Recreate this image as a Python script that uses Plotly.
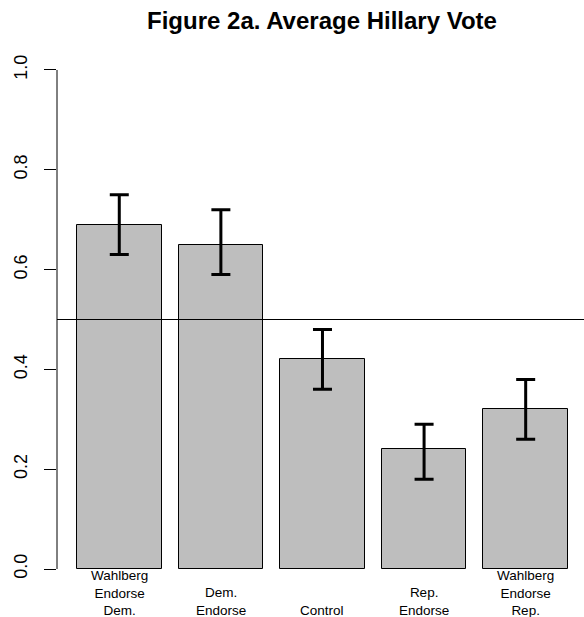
import plotly.graph_objects as go

categories = ["Wahlberg<br>Endorse<br>Dem.", "Dem.<br>Endorse", "Control", "Rep.<br>Endorse", "Wahlberg<br>Endorse<br>Rep."]
means = [0.69, 0.65, 0.42, 0.24, 0.32]
lower = [0.63, 0.59, 0.36, 0.18, 0.26]
upper = [0.75, 0.72, 0.48, 0.29, 0.38]
y_ticks = [0.0, 0.2, 0.4, 0.6, 0.8, 1.0]
y_ticklabels = ["0.0", "0.2", "0.4", "0.6", "0.8", "1.0"]

xs = list(range(len(categories)))
err_plus = [u - m for u, m in zip(upper, means)]
err_minus = [m - l for m, l in zip(means, lower)]

FONT = "Liberation Sans, Arial, Helvetica, sans-serif"

fig = go.Figure()
fig.add_trace(go.Bar(
    x=xs, y=means,
    marker=dict(color="#bebebe", line=dict(color="black", width=1)),
    error_y=dict(type="data", symmetric=False, array=err_plus, arrayminus=err_minus,
                 color="black", thickness=3, width=9.5),
    width=1 / 1.2,
    showlegend=False,
))

for x, lab in zip(xs, categories):
    fig.add_annotation(x=x, y=0, xref="x", yref="paper", text=lab, showarrow=False,
                       yanchor="bottom", yshift=-31, align="center",
                       font=dict(family=FONT, size=13.5, color="black"))

fig.add_shape(type="line", xref="paper", x0=0, x1=1, yref="y", y0=0.5, y1=0.5,
              line=dict(color="black", width=1))
fig.add_shape(type="line", xref="paper", x0=0, x1=0, yref="y", y0=0, y1=1,
              line=dict(color="black", width=1))

fig.update_layout(
    width=584, height=617,
    margin=dict(l=57, r=0, t=50, b=28),
    plot_bgcolor="white", paper_bgcolor="white",
    font=dict(family=FONT, color="black"),
    title=dict(text="<b>Figure 2a. Average Hillary Vote</b>", x=(322) / 584, xanchor="center",
               y=1 - 21 / 617, yanchor="middle", yref="container",
               font=dict(family=FONT, size=24, color="black")),
    bargap=0,
)
fig.update_xaxes(range=[-0.613, 4.574], showticklabels=False, ticks="", showgrid=False,
                 zeroline=False, showline=False)
fig.update_yaxes(range=[-0.04, 1.04], tickvals=y_ticks, ticktext=y_ticklabels,
                 ticks="outside", ticklen=12, tickwidth=1, tickcolor="black",
                 tickangle=-90, tickfont=dict(family=FONT, size=18, color="black"),
                 ticklabelstandoff=10,
                 showgrid=False, zeroline=False, showline=False)

fig.write_html("out.html")
